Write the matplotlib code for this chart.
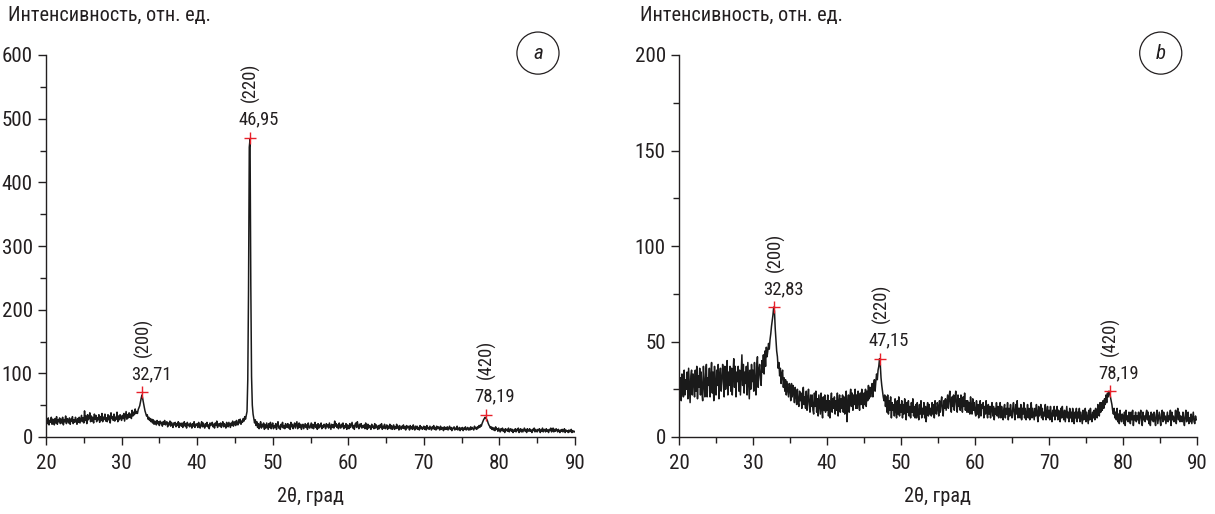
import numpy as np
import matplotlib
matplotlib.use("Agg")
import matplotlib.pyplot as plt
from matplotlib import font_manager as fm
from matplotlib.ticker import MultipleLocator

# pick a narrow sans if one is installed, otherwise Liberation Sans
installed = {f.name for f in fm.fontManager.ttflist}
narrow = [n for n in ("Liberation Sans Narrow", "Roboto Condensed", "Open Sans Condensed",
                      "DejaVu Sans Condensed", "Arial Narrow") if n in installed]
if narrow:
    FAM, SCALE = narrow[0], 1.12
else:
    FAM, SCALE = "Liberation Sans", 1.0
plt.rcParams['font.family'] = [FAM, 'DejaVu Sans']

# 2theta grid, 0.1 degree step
two_theta = np.round(np.arange(20.0, 90.05, 0.1), 1)

# intensity, sample a (one row = 1 degree)
intens_a = [
    18, 27, 21, 30, 19, 26, 23, 31, 20, 28,
    25, 19, 29, 22, 32, 20, 27, 24, 30, 21,
    28, 22, 31, 19, 27, 24, 33, 21, 29, 25,
    22, 30, 20, 28, 25, 32, 21, 27, 23, 31,
    26, 20, 29, 23, 31, 22, 28, 34, 24, 30,
    22, 41, 26, 33, 21, 35, 27, 30, 38, 24,
    33, 25, 31, 22, 36, 28, 34, 24, 30, 27,
    35, 23, 32, 26, 37, 24, 31, 28, 36, 25,
    30, 24, 35, 27, 33, 22, 38, 29, 32, 26,
    36, 25, 31, 28, 39, 24, 33, 27, 35, 30,
    26, 34, 29, 37, 25, 32, 40, 28, 35, 30,
    38, 31, 36, 29, 42, 33, 39, 35, 44, 37,
    40, 37, 43, 46, 49, 55, 61, 66, 60, 53,
    47, 41, 37, 33, 35, 28, 31, 26, 29, 24,
    28, 22, 27, 20, 25, 23, 19, 26, 21, 24,
    18, 25, 21, 23, 17, 24, 20, 26, 19, 22,
    24, 16, 22, 19, 25, 17, 23, 20, 15, 22,
    19, 23, 16, 21, 18, 24, 15, 22, 19, 17,
    22, 15, 20, 24, 17, 21, 14, 23, 18, 20,
    16, 22, 19, 14, 21, 17, 24, 15, 20, 18,
    21, 15, 23, 18, 14, 20, 24, 16, 22, 17,
    14, 21, 17, 23, 16, 19, 13, 22, 18, 20,
    23, 16, 20, 14, 22, 18, 25, 15, 19, 21,
    17, 22, 15, 20, 24, 16, 21, 18, 14, 23,
    20, 16, 23, 19, 15, 22, 18, 25, 17, 21,
    24, 18, 26, 21, 19, 27, 22, 28, 20, 25,
    23, 29, 25, 32, 28, 34, 40, 90, 230, 455,
    468, 240, 95, 50, 36, 29, 22, 27, 18, 24,
    15, 21, 13, 19, 24, 14, 20, 16, 22, 12,
    19, 14, 22, 17, 12, 21, 15, 23, 13, 18,
    22, 13, 18, 15, 21, 12, 19, 24, 14, 17,
    12, 20, 16, 23, 14, 18, 13, 21, 17, 15,
    21, 14, 19, 12, 23, 16, 20, 13, 18, 22,
    14, 19, 24, 13, 17, 22, 15, 20, 12, 18,
    20, 13, 17, 21, 15, 19, 12, 22, 16, 14,
    18, 22, 14, 20, 13, 17, 23, 15, 19, 12,
    21, 14, 19, 16, 22, 13, 18, 15, 20, 17,
    13, 21, 16, 19, 14, 22, 17, 12, 20, 15,
    19, 14, 25, 17, 21, 15, 19, 13, 22, 16,
    14, 20, 16, 22, 13, 18, 15, 21, 12, 19,
    17, 13, 21, 15, 19, 23, 14, 18, 12, 20,
    22, 15, 24, 17, 13, 20, 16, 21, 14, 18,
    15, 19, 13, 22, 16, 12, 20, 14, 18, 17,
    12, 20, 15, 17, 13, 21, 14, 19, 16, 12,
    18, 13, 19, 15, 21, 12, 17, 14, 20, 13,
    15, 19, 12, 17, 14, 20, 13, 18, 12, 16,
    19, 12, 16, 13, 20, 14, 17, 11, 18, 15,
    12, 17, 14, 19, 13, 16, 11, 18, 14, 17,
    15, 11, 18, 13, 16, 12, 19, 14, 11, 17,
    13, 17, 12, 15, 11, 18, 13, 16, 12, 14,
    17, 12, 16, 11, 18, 13, 15, 12, 17, 14,
    11, 16, 13, 18, 12, 15, 11, 17, 13, 16,
    14, 11, 17, 12, 15, 13, 10, 16, 12, 15,
    12, 16, 11, 14, 17, 12, 15, 10, 14, 13,
    16, 11, 14, 12, 17, 11, 13, 15, 10, 14,
    12, 15, 10, 14, 12, 16, 11, 13, 15, 11,
    14, 11, 16, 12, 15, 13, 11, 17, 13, 15,
    12, 16, 14, 18, 15, 19, 17, 21, 24, 27,
    29, 31, 30, 28, 26, 22, 19, 17, 14, 16,
    12, 15, 11, 14, 10, 16, 12, 13, 9, 14,
    11, 8, 13, 10, 14, 9, 12, 7, 13, 10,
    12, 9, 14, 8, 11, 13, 9, 12, 7, 11,
    9, 13, 8, 12, 10, 14, 7, 11, 13, 8,
    12, 8, 11, 14, 9, 12, 7, 13, 10, 9,
    13, 9, 11, 7, 12, 10, 14, 8, 12, 9,
    8, 12, 10, 13, 7, 11, 9, 14, 8, 11,
    12, 8, 13, 9, 11, 7, 12, 10, 14, 8,
    10, 14, 8, 12, 9, 13, 11, 8, 12, 10,
    7, 11, 9, 12, 8, 10, 13, 7, 11, 9,
    10, 7, 11, 8, 9, 12, 7, 10, 8, 9,
    8,
]

# intensity, sample b
intens_b = [
    17, 26, 31, 19, 33, 24, 21, 35, 22, 30,
    25, 34, 20, 36, 27, 18, 32, 35, 22, 33,
    30, 21, 35, 24, 37, 20, 32, 26, 36, 22,
    34, 23, 19, 37, 28, 21, 33, 38, 21, 31,
    27, 36, 21, 32, 39, 23, 34, 19, 37, 26,
    22, 35, 27, 38, 20, 31, 36, 24, 29, 38,
    33, 21, 37, 25, 31, 40, 22, 34, 27, 37,
    24, 36, 22, 33, 41, 26, 37, 21, 34, 29,
    37, 24, 35, 22, 33, 43, 27, 38, 23, 34,
    28, 37, 22, 39, 30, 20, 35, 25, 38, 29,
    35, 24, 39, 28, 22, 37, 42, 26, 35, 38,
    31, 27, 40, 34, 43, 33, 45, 37, 47, 42,
    45, 49, 46, 51, 54, 58, 61, 64, 68, 66,
    57, 51, 45, 42, 36, 39, 32, 36, 28, 33,
    35, 26, 31, 24, 30, 22, 29, 25, 21, 28,
    26, 19, 28, 21, 27, 23, 18, 26, 22, 17,
    25, 18, 16, 24, 19, 23, 15, 22, 26, 17,
    21, 15, 24, 14, 20, 25, 17, 13, 22, 16,
    22, 14, 12, 23, 16, 24, 13, 20, 11, 22,
    17, 12, 23, 15, 10, 21, 14, 22, 13, 19,
    14, 22, 11, 19, 10, 18, 23, 13, 20, 15,
    21, 12, 19, 14, 23, 11, 18, 22, 13, 20,
    15, 22, 13, 21, 12, 19, 24, 8, 17, 22,
    13, 21, 25, 16, 23, 14, 22, 17, 25, 15,
    22, 15, 24, 18, 14, 23, 17, 25, 19, 15,
    23, 17, 25, 16, 24, 19, 27, 20, 26, 21,
    25, 28, 21, 27, 30, 24, 29, 33, 30, 35,
    37, 41, 38, 31, 27, 24, 21, 19, 22, 16,
    21, 13, 22, 12, 19, 14, 21, 10, 18, 14,
    17, 11, 20, 14, 10, 19, 12, 21, 11, 17,
    13, 19, 10, 17, 12, 20, 14, 9, 18, 13,
    19, 11, 16, 10, 18, 13, 20, 11, 16, 10,
    17, 10, 18, 13, 9, 17, 12, 19, 10, 15,
    12, 18, 10, 16, 8, 15, 18, 11, 17, 12,
    15, 11, 18, 12, 17, 10, 19, 13, 12, 18,
    16, 11, 19, 13, 18, 21, 14, 11, 19, 15,
    20, 14, 18, 22, 15, 21, 24, 16, 13, 21,
    16, 22, 14, 20, 24, 17, 13, 22, 16, 20,
    14, 22, 17, 13, 21, 16, 23, 14, 19, 13,
    19, 13, 18, 12, 21, 15, 12, 20, 14, 18,
    13, 11, 19, 12, 17, 10, 16, 19, 11, 17,
    15, 18, 10, 16, 12, 19, 13, 10, 17, 12,
    16, 10, 15, 18, 11, 16, 9, 15, 12, 18,
    11, 16, 10, 15, 18, 10, 16, 12, 9, 15,
    17, 10, 15, 12, 18, 9, 15, 11, 17, 12,
    10, 15, 18, 12, 9, 17, 12, 19, 10, 15,
    15, 10, 17, 9, 15, 12, 18, 10, 15, 9,
    12, 17, 10, 15, 9, 12, 18, 10, 15, 12,
    9, 15, 11, 17, 12, 8, 16, 11, 12, 17,
    10, 15, 9, 13, 11, 17, 9, 12, 16, 10,
    14, 9, 16, 11, 8, 14, 11, 16, 9, 14,
    11, 16, 9, 14, 12, 8, 15, 10, 16, 11,
    9, 14, 8, 12, 16, 10, 13, 8, 15, 10,
    13, 8, 15, 10, 7, 13, 10, 15, 8, 13,
    10, 15, 8, 13, 10, 7, 14, 9, 11, 15,
    8, 13, 10, 7, 14, 9, 15, 10, 8, 13,
    10, 14, 9, 15, 11, 10, 17, 12, 11, 18,
    13, 18, 14, 19, 15, 20, 17, 22, 18, 23,
    21, 24, 23, 21, 19, 17, 14, 12, 15, 10,
    13, 9, 15, 8, 12, 7, 14, 10, 8, 12,
    11, 7, 13, 6, 14, 9, 11, 8, 13, 9,
    7, 13, 9, 14, 6, 11, 9, 13, 8, 11,
    9, 13, 7, 11, 14, 9, 6, 13, 9, 11,
    8, 12, 14, 9, 13, 7, 11, 6, 13, 9,
    12, 8, 13, 9, 6, 12, 14, 7, 10, 13,
    9, 6, 12, 14, 8, 13, 9, 11, 7, 10,
    13, 8, 11, 9, 14, 6, 13, 9, 11, 8,
    9, 14, 7, 12, 15, 9, 13, 8, 11, 9,
    8, 13, 9, 6, 11, 14, 8, 10, 13, 7,
    10, 8, 12, 7, 10, 13, 8, 7, 11, 9,
    9,
]

# marked peaks
peaks_a_pos = [32.71, 46.95, 78.19]
peaks_a_int = [70, 470, 35]
peaks_a_lbl = ["32,71", "46,95", "78,19"]
peaks_a_hkl = ["(200)", "(220)", "(420)"]

peaks_b_pos = [32.83, 47.15, 78.19]
peaks_b_int = [68, 41, 24]
peaks_b_lbl = ["32,83", "47,15", "78,19"]
peaks_b_hkl = ["(200)", "(220)", "(420)"]

W, H = 1215, 514
fig = plt.figure(figsize=(W / 100, H / 100), dpi=100)
ax_a = fig.add_axes([46 / W, 77 / H, 529 / W, 382 / H])
ax_b = fig.add_axes([679 / W, 77 / H, 518 / W, 382 / H])

PX = 0.72  # pixels -> points at dpi 100
INK = "#231f20"


def draw_panel(ax, y, ymax, ymajor, pos, inten, lbl, hkl, letter):
    ax.plot(two_theta, y, color="#1a1a1a", lw=1.1)
    ax.plot(pos, inten, ls="none", marker="+", ms=8, mew=1.0, color="#e8202a")
    for p, i, l, h in zip(pos, inten, lbl, hkl):
        ax.annotate(l, (p, i), xytext=(9 * PX, 18 * PX), textcoords="offset points",
                    ha="center", va="center", fontsize=12 * SCALE, color=INK)
        ax.annotate(h, (p, i), xytext=(1 * PX, 55 * PX), textcoords="offset points",
                    ha="center", va="center", fontsize=12 * SCALE, rotation=90, color=INK)
    ax.set_xlim(20, 90)
    ax.set_ylim(0, ymax)
    ax.xaxis.set_major_locator(MultipleLocator(10))
    ax.xaxis.set_minor_locator(MultipleLocator(5))
    ax.yaxis.set_major_locator(MultipleLocator(ymajor))
    ax.yaxis.set_minor_locator(MultipleLocator(ymajor / 2))
    for s in ("top", "right"):
        ax.spines[s].set_visible(False)
    for s in ("left", "bottom"):
        ax.spines[s].set_linewidth(1.0)
        ax.spines[s].set_color(INK)
    ax.tick_params(which="major", direction="out", length=6, width=1.0,
                   labelsize=13.5 * SCALE, colors=INK)
    ax.tick_params(axis="x", which="major", pad=6)
    ax.tick_params(which="minor", direction="out", length=4, width=1.0, colors=INK)
    ax.set_xlabel("2θ, град", fontsize=13 * SCALE, color=INK, labelpad=10)
    ax.text(0.93, 1.005, letter, transform=ax.transAxes, ha="center", va="center",
            fontsize=13.5 * SCALE, style="italic", color=INK,
            bbox=dict(boxstyle="circle,pad=0.55", fc="white", ec=INK, lw=0.9))
    ax.patch.set_alpha(0)


draw_panel(ax_a, intens_a, 600, 100, peaks_a_pos, peaks_a_int, peaks_a_lbl, peaks_a_hkl, "a")
draw_panel(ax_b, intens_b, 200, 50, peaks_b_pos, peaks_b_int, peaks_b_lbl, peaks_b_hkl, "b")

for x0 in (8, 640):
    fig.text(x0 / W, 1 - 15 / H, "Интенсивность, отн. ед.", ha="left", va="center",
             fontsize=13 * SCALE, color=INK)

fig.savefig("out.png", dpi=100)
